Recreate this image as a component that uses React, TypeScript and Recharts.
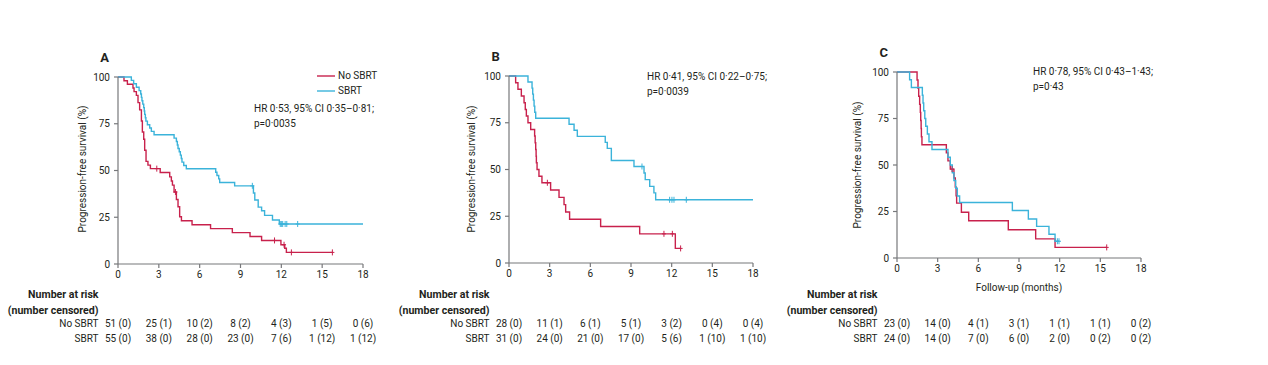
import { ComposedChart, Line, Scatter, XAxis, YAxis, Legend } from "recharts";

const FONT = "Roboto, 'Noto Sans', sans-serif";
const RED = "#c8214c";
const BLUE = "#3bb3da";
const AXIS = "#77787b";
const INK = "#231f20";

const monthTicks = [0, 3, 6, 9, 12, 15, 18];
const survivalTicks = [0, 25, 50, 75, 100];
const armNames = ["No SBRT", "SBRT"];

// ---- panel A: all patients ----
const aNoTime = [0, 0.44, 0.69, 1.1, 1.18, 1.35, 1.47, 1.59, 1.72, 1.79, 1.89, 1.96, 2.06, 2.2, 2.38, 3.1, 3.8, 3.92, 4.0, 4.12, 4.29, 4.41, 4.53, 4.66, 5.44, 6.8, 8.4, 9.7, 10.55, 11.97, 12.25, 12.37, 15.75];
const aNoSurv = [100, 98, 96.1, 94.1, 92.2, 90.2, 86.3, 82.4, 76.5, 70.6, 66.7, 60.8, 54.9, 52.9, 51, 48.9, 46.6, 44.4, 42.2, 38.5, 34.5, 30.6, 25.3, 23.1, 21, 18.9, 16.8, 14.7, 12.6, 10.3, 8.4, 6.2, 6.2];
const aNoCensTime = [2.85, 4.22, 11.5, 12.2, 12.74, 15.75];
const aNoCensSurv = [51, 38.5, 12.6, 10.3, 6.2, 6.2];
const aYesTime = [0, 0.98, 1.15, 1.35, 1.55, 1.67, 1.72, 1.76, 1.82, 1.89, 1.93, 1.96, 2.01, 2.05, 2.16, 2.33, 2.45, 2.65, 4.12, 4.29, 4.36, 4.41, 4.5, 4.58, 4.65, 4.7, 4.83, 5.02, 7.18, 7.27, 7.4, 7.47, 8.57, 9.95, 10.05, 10.3, 10.55, 10.77, 11.35, 11.85, 18];
const aYesSurv = [100, 98.2, 96.4, 94.5, 92.7, 90.9, 89.1, 87.3, 85.5, 83.6, 81.8, 80, 78.2, 76.4, 74.5, 72.7, 70.9, 69.1, 67.3, 65.5, 63.6, 61.8, 60, 58.2, 56.4, 54.5, 52.7, 50.9, 49.1, 47.3, 45.5, 43.6, 41.8, 38, 34.2, 30.4, 28.5, 26, 23.5, 21.4, 21.4];
const aYesCensTime = [9.87, 11.92, 12.0, 12.1, 12.28, 12.4, 13.2];
const aYesCensSurv = [41.8, 21.4, 21.4, 21.4, 21.4, 21.4, 21.4];
const aRiskNo = ["51 (0)", "25 (1)", "10 (2)", "8 (2)", "4 (3)", "1 (5)", "0 (6)"];
const aRiskYes = ["55 (0)", "38 (0)", "28 (0)", "23 (0)", "7 (6)", "1 (12)", "1 (12)"];
const aStats = ["HR 0·53, 95% CI 0·35–0·81;", "p=0·0035"];

// ---- panel B ----
const bNoTime = [0, 0.49, 0.66, 0.91, 1.11, 1.2, 1.28, 1.4, 1.6, 1.89, 1.93, 1.97, 2.0, 2.02, 2.07, 2.21, 2.43, 3.07, 3.69, 4.06, 4.18, 4.47, 6.76, 9.64, 12.27, 12.66];
const bNoSurv = [100, 96.4, 92.9, 89.3, 85.7, 82.1, 78.6, 75, 71.4, 67.9, 64.3, 60.7, 57.1, 53.6, 50, 46.4, 42.9, 39, 35.1, 31.2, 27.3, 23.4, 19.5, 15.6, 7.8, 7.8];
const bNoCensTime = [2.83, 11.43, 12.05, 12.66];
const bNoCensSurv = [42.9, 15.6, 15.6, 7.8];
const bYesTime = [0, 1.4, 1.7, 1.75, 1.8, 1.85, 1.9, 1.97, 4.43, 4.8, 5.04, 7.1, 7.25, 7.55, 9.22, 9.96, 10.05, 10.38, 10.69, 10.82, 18];
const bYesSurv = [100, 96.8, 93.5, 90.3, 87.1, 83.9, 80.6, 77.4, 74.2, 71, 67.7, 64.5, 61.3, 54.8, 51.6, 48.1, 44.6, 41, 37.5, 33.8, 33.8];
const bYesCensTime = [9.81, 11.85, 12.02, 12.17, 13.08];
const bYesCensSurv = [51.6, 33.8, 33.8, 33.8, 33.8];
const bRiskNo = ["28 (0)", "11 (1)", "6 (1)", "5 (1)", "3 (2)", "0 (4)", "0 (4)"];
const bRiskYes = ["31 (0)", "24 (0)", "21 (0)", "17 (0)", "5 (6)", "1 (10)", "1 (10)"];
const bStats = ["HR 0·41, 95% CI 0·22–0·75;", "p=0·0039"];

// ---- panel C ----
const cNoTime = [0, 1.48, 1.55, 1.6, 1.67, 1.72, 1.75, 1.78, 1.8, 1.84, 3.64, 3.76, 3.93, 4.2, 4.3, 4.36, 4.4, 4.75, 5.29, 8.21, 10.23, 11.66, 15.47];
const cNoSurv = [100, 95.7, 91.3, 87, 82.6, 78.3, 73.9, 69.6, 65.2, 60.9, 56.5, 52.2, 47.8, 43, 38.2, 33.5, 29.5, 24.6, 20, 15.2, 10.3, 5.7, 5.7];
const cNoCensTime = [4.06, 15.47];
const cNoCensSurv = [47.8, 5.7];
const cYesTime = [0, 0.93, 1.06, 1.87, 1.92, 1.97, 2.05, 2.12, 2.24, 2.36, 2.58, 3.76, 3.93, 4.08, 4.2, 4.33, 4.45, 4.62, 8.51, 9.69, 10.3, 11.21, 11.66, 11.95];
const cYesSurv = [100, 95.8, 91.7, 87.5, 83.3, 79.2, 75, 70.8, 66.7, 62.5, 58.3, 54.2, 50, 45.8, 41.7, 37.5, 33.3, 29.8, 25.5, 21, 17, 12.8, 9, 9];
const cYesCensTime = [11.83, 11.95];
const cYesCensSurv = [9, 9];
const cRiskNo = ["23 (0)", "14 (0)", "4 (1)", "3 (1)", "1 (1)", "1 (1)", "0 (2)"];
const cRiskYes = ["24 (0)", "14 (0)", "7 (0)", "6 (0)", "2 (0)", "0 (2)", "0 (2)"];
const cStats = ["HR 0·78, 95% CI 0·43–1·43;", "p=0·43"];

type Pt = { t: number; s: number };
const zip = (t: number[], s: number[]): Pt[] => t.map((v, i) => ({ t: v, s: s[i] }));

interface PanelSpec {
  letter: string;
  x: number;
  y: number;
  w: number;
  h: number;
  no: Pt[];
  yes: Pt[];
  noCens: Pt[];
  yesCens: Pt[];
  riskNo: string[];
  riskYes: string[];
  stats: string[];
  statsDx: number;
  statsDy: number;
  yLabelDx: number;
  yLabelDy: number;
  legend?: boolean;
  xLabel?: string;
}

const panels: PanelSpec[] = [
  {
    letter: "A", x: 118, y: 77, w: 245, h: 187,
    no: zip(aNoTime, aNoSurv), yes: zip(aYesTime, aYesSurv),
    noCens: zip(aNoCensTime, aNoCensSurv), yesCens: zip(aYesCensTime, aYesCensSurv),
    riskNo: aRiskNo, riskYes: aRiskYes, stats: aStats,
    statsDx: 136, statsDy: 32, yLabelDx: -35, yLabelDy: 92, legend: true,
  },
  {
    letter: "B", x: 509, y: 76, w: 244, h: 187,
    no: zip(bNoTime, bNoSurv), yes: zip(bYesTime, bYesSurv),
    noCens: zip(bNoCensTime, bNoCensSurv), yesCens: zip(bYesCensTime, bYesCensSurv),
    riskNo: bRiskNo, riskYes: bRiskYes, stats: bStats,
    statsDx: 138, statsDy: 1, yLabelDx: -37.5, yLabelDy: 93,
  },
  {
    letter: "C", x: 897, y: 72, w: 244, h: 186,
    no: zip(cNoTime, cNoSurv), yes: zip(cYesTime, cYesSurv),
    noCens: zip(cNoCensTime, cNoCensSurv), yesCens: zip(cYesCensTime, cYesCensSurv),
    riskNo: cRiskNo, riskYes: cRiskYes, stats: cStats,
    statsDx: 136, statsDy: 0, yLabelDx: -39, yLabelDy: 93, xLabel: "Follow-up (months)",
  },
];

const PAD_L = 60;
const PAD_T = 12;
const PAD_R = 14;
const PAD_B = 30;

const tickStyle = { fontSize: 10, fill: INK, fontFamily: FONT };
const axisStyle = { stroke: AXIS, strokeWidth: 1.2 };

const censorMark = (color: string) => (props: any) => {
  const { cx, cy } = props;
  return (
    <path
      d={`M${cx},${cy - 3}V${cy + 3}M${cx - 2},${cy}H${cx + 2}`}
      stroke={color}
      strokeWidth={1}
      fill="none"
    />
  );
};

function Txt({
  x, y, children, anchor = "start", bold = false, size = 10, rotate = false,
}: {
  x: number; y: number; children: React.ReactNode; anchor?: "start" | "middle" | "end";
  bold?: boolean; size?: number; rotate?: boolean;
}) {
  const tx = anchor === "start" ? "0" : anchor === "middle" ? "-50%" : "-100%";
  return (
    <div
      style={{
        position: "absolute",
        left: x,
        top: y,
        transform: `translate(${tx}, -50%)${rotate ? " rotate(-90deg)" : ""}`,
        whiteSpace: "nowrap",
        fontFamily: FONT,
        fontSize: size,
        fontWeight: bold ? 700 : 400,
        lineHeight: 1,
        color: INK,
      }}
    >
      {children}
    </div>
  );
}

function KmPanel({ p }: { p: PanelSpec }) {
  const xAt = (t: number) => p.x + (t / 18) * p.w;
  const labelRight = p.x - 19.5;
  return (
    <>
      <div style={{ position: "absolute", left: p.x - PAD_L, top: p.y - PAD_T }}>
        <ComposedChart
          width={p.w + PAD_L + PAD_R}
          height={p.h + PAD_T + PAD_B}
          margin={{ top: PAD_T, right: PAD_R, bottom: 0, left: 0 }}
        >
          <XAxis
            type="number"
            dataKey="t"
            domain={[0, 18]}
            ticks={monthTicks}
            interval={0}
            height={PAD_B}
            tickSize={4}
            tickMargin={3}
            tick={tickStyle}
            axisLine={axisStyle}
            tickLine={axisStyle}
          />
          <YAxis
            type="number"
            dataKey="s"
            domain={[0, 100]}
            ticks={survivalTicks}
            interval={0}
            width={PAD_L}
            tickSize={4}
            tickMargin={4}
            tick={tickStyle}
            axisLine={axisStyle}
            tickLine={axisStyle}
          />
          <Line
            data={p.no}
            dataKey="s"
            name={armNames[0]}
            type="stepAfter"
            stroke={RED}
            strokeWidth={1.4}
            dot={false}
            isAnimationActive={false}
          />
          <Line
            data={p.yes}
            dataKey="s"
            name={armNames[1]}
            type="stepAfter"
            stroke={BLUE}
            strokeWidth={1.4}
            dot={false}
            isAnimationActive={false}
          />
          <Scatter data={p.noCens} dataKey="s" shape={censorMark(RED)} legendType="none" isAnimationActive={false} />
          <Scatter data={p.yesCens} dataKey="s" shape={censorMark(BLUE)} legendType="none" isAnimationActive={false} />
          {p.legend && (
            <Legend
              layout="vertical"
              align="center"
              verticalAlign="middle"
              wrapperStyle={{ left: 259, top: 3, width: 70 }}
              content={() => (
                <div style={{ fontFamily: FONT, fontSize: 10, color: INK, whiteSpace: "nowrap" }}>
                  {armNames.map((name, i) => (
                    <div key={name} style={{ display: "flex", alignItems: "center", height: 15 }}>
                      <svg width={21} height={4} style={{ display: "block", flexShrink: 0 }}>
                        <line x1={0} x2={18} y1={2} y2={2} stroke={i === 0 ? RED : BLUE} strokeWidth={1.4} />
                      </svg>
                      <span>{name}</span>
                    </div>
                  ))}
                </div>
              )}
            />
          )}
        </ComposedChart>
      </div>
      <Txt x={p.x - 13.3} y={p.y - 20} anchor="middle" bold size={13}>{p.letter}</Txt>
      <Txt x={p.x + p.yLabelDx} y={p.y + p.yLabelDy} anchor="middle" rotate>
        Progression-free survival (%)
      </Txt>
      {p.stats.map((line, i) => (
        <Txt key={line} x={p.x + p.statsDx} y={p.y + p.statsDy + i * 14.5}>{line}</Txt>
      ))}
      {p.xLabel && <Txt x={p.x + p.w / 2} y={288} anchor="middle">{p.xLabel}</Txt>}
      <Txt x={labelRight} y={295} anchor="end" bold size={10.6}>Number at risk</Txt>
      <Txt x={labelRight} y={311} anchor="end" bold size={10.6}>(number censored)</Txt>
      <Txt x={labelRight} y={323.5} anchor="end">{armNames[0]}</Txt>
      <Txt x={labelRight} y={338.5} anchor="end">{armNames[1]}</Txt>
      {monthTicks.map((t, i) => (
        <Txt key={`n${t}`} x={xAt(t)} y={323.5} anchor="middle">{p.riskNo[i]}</Txt>
      ))}
      {monthTicks.map((t, i) => (
        <Txt key={`y${t}`} x={xAt(t)} y={338.5} anchor="middle">{p.riskYes[i]}</Txt>
      ))}
    </>
  );
}

export default function App() {
  return (
    <div
      style={{
        position: "absolute",
        left: 0,
        top: 0,
        width: 1268,
        height: 365,
        background: "#fff",
        overflow: "hidden",
      }}
    >
      {panels.map((p) => (
        <KmPanel key={p.letter} p={p} />
      ))}
    </div>
  );
}
